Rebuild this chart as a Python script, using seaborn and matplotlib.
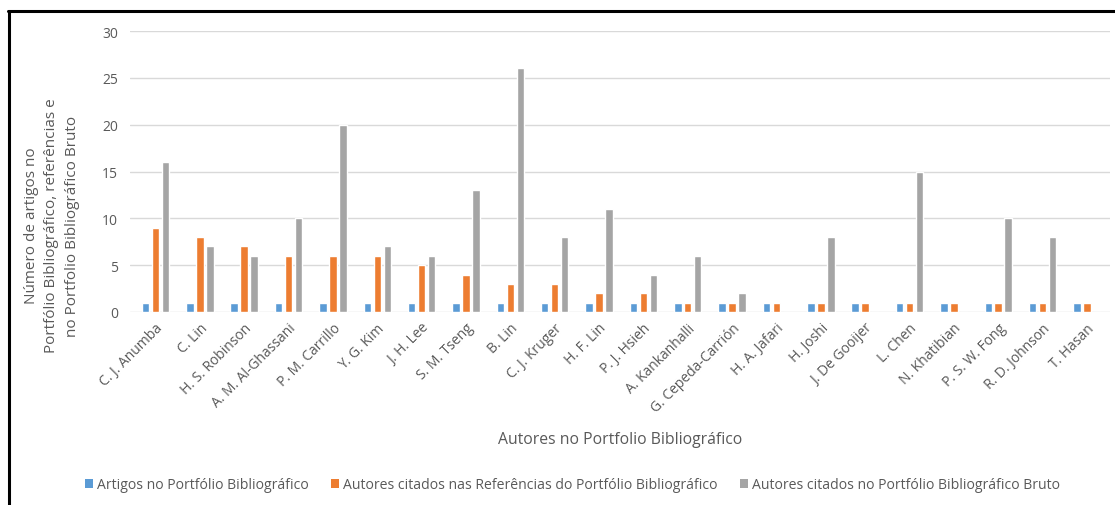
import matplotlib
matplotlib.use("Agg")
import matplotlib.pyplot as plt
import seaborn as sns
import pandas as pd
from matplotlib.lines import Line2D
from matplotlib.patches import Patch

autores = ["C. J. Anumba", "C. Lin", "H. S. Robinson", "A. M. Al-Ghassani", "P. M. Carrillo",
           "Y. G. Kim", "J. H. Lee", "S. M. Tseng", "B. Lin", "C. J. Kruger", "H. F. Lin",
           "P. J. Hsieh", "A. Kankanhalli", "G. Cepeda-Carrión", "H. A. Jafari", "H. Joshi",
           "J. De Gooijer", "L. Chen", "N. Khatibian", "P. S. W. Fong", "R. D. Johnson", "T. Hasan"]
artigos = [1, 1, 1, 1, 1, 1, 1, 1, 1, 1, 1, 1, 1, 1, 1, 1, 1, 1, 1, 1, 1, 1]
referencias = [9, 8, 7, 6, 6, 6, 5, 4, 3, 3, 2, 2, 1, 1, 1, 1, 1, 1, 1, 1, 1, 1]
bruto = [16, 7, 6, 10, 20, 7, 6, 13, 26, 8, 11, 4, 6, 2, 0, 8, 0, 15, 0, 10, 8, 0]

series = ["Artigos no Portfólio Bibliográfico",
          "Autores citados nas Referências do Portfólio Bibliográfico",
          "Autores citados no Portfólio Bibliográfico Bruto"]
colors = ["#5B9BD5", "#ED7D31", "#A5A5A5"]
titulo_x = "Autores no Portfolio Bibliográfico"
titulo_y = ["Número de artigos no",
            "Portfólio Bibliográfico, referências e",
            "no Portfolio Bibliográfico Bruto"]

df = pd.DataFrame({
    "autor": autores * 3,
    "valor": artigos + referencias + bruto,
    "serie": [series[0]] * len(autores) + [series[1]] * len(autores) + [series[2]] * len(autores),
})

sns.set_theme(style="white")
plt.rcParams["font.family"] = ["Open Sans", "DejaVu Sans"]
txt = "#595959"

W, H = 1115, 506
fig = plt.figure(figsize=(W / 100, H / 100), dpi=100)
ax = fig.add_axes([130 / W, 1 - 313 / H, 980 / W, 281 / H])

sns.barplot(data=df, x="autor", y="valor", hue="serie", palette=colors,
            width=0.675, gap=0.25, ax=ax, legend=False, saturation=1)

ax.set_ylim(0, 30)
ax.set_yticks(range(0, 31, 5))
ax.set_xlim(-0.575, len(autores) - 1 + 0.52)
ax.yaxis.grid(True, color="#D9D9D9", linewidth=1)
ax.set_axisbelow(True)
for s in ax.spines.values():
    s.set_visible(False)
ax.tick_params(axis="both", length=0, colors=txt)
ax.tick_params(axis="y", labelsize=10, pad=8.6)
ax.tick_params(axis="x", pad=6)
ax.set_xticks(range(len(autores)))
ax.set_xticklabels(autores, rotation=45, ha="right", rotation_mode="anchor",
                   fontsize=10, color=txt)
for lab in ax.get_yticklabels():
    lab.set_color(txt)
ax.set_xlabel("")
ax.set_ylabel("")

fig.canvas.draw()
rend = fig.canvas.get_renderer()


def fit(artist, target, dim, size):
    for _ in range(3):
        artist.set_fontsize(size)
        bb = artist.get_window_extent(rend)
        cur = bb.width if dim == "w" else bb.height
        size *= target / cur
    artist.set_fontsize(size)
    return size


# x axis title
tx = fig.text(620 / W, 1 - 440 / H, titulo_x, color=txt, ha="center", va="center")
fit(tx, 245, "w", 11)

# y axis title: three centred vertical lines
ylines = []
for i, line in enumerate(titulo_y):
    t = fig.text((32 + 20 * i) / W, 1 - 226 / H, line, color=txt, rotation=90,
                 ha="center", va="center")
    ylines.append(t)
fs_y = fit(ylines[1], 252, "h", 11)
for t in ylines:
    t.set_fontsize(fs_y)

# legend
handles = [Patch(facecolor=c, edgecolor="none") for c in colors]


def make_legend(fs):
    return fig.legend(handles, series, loc="center", bbox_to_anchor=(572.5 / W, 1 - 486 / H),
                      ncol=3, frameon=False, fontsize=fs, labelcolor=txt, handlelength=0.55,
                      handleheight=0.55, handletextpad=0.3, columnspacing=1.6,
                      borderpad=0, borderaxespad=0)


fs_leg = 10
for _ in range(3):
    leg = make_legend(fs_leg)
    wcur = leg.get_window_extent(rend).width
    leg.remove()
    fs_leg *= 971 / wcur
leg = make_legend(fs_leg)

# outer frame (top and left edges, as in the reference crop)
fig.add_artist(Line2D([8 / W, 1.0], [1 - 12 / H, 1 - 12 / H], transform=fig.transFigure,
                      color="black", linewidth=2.2))
fig.add_artist(Line2D([9 / W, 9 / W], [0.0, 1 - 12 / H], transform=fig.transFigure,
                      color="black", linewidth=2.2))

fig.savefig("out.png", dpi=100, facecolor="white")
